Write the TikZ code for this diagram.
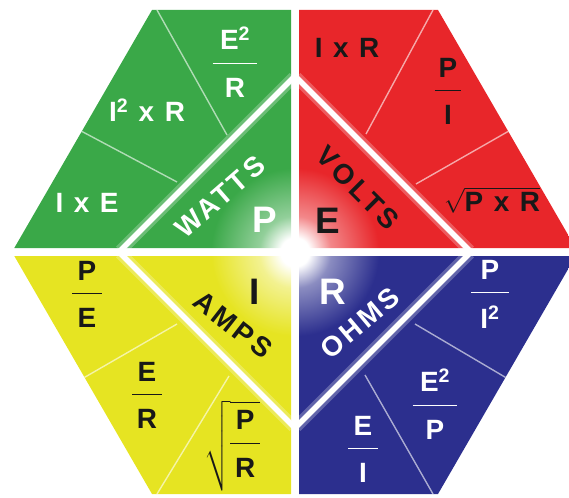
\documentclass[tikz,border=0pt]{standalone}
\usepackage{amsmath}
\usepackage{fontspec}
\setmainfont{Liberation Sans}
\usetikzlibrary{calc}

\definecolor{OhmGreen}{RGB}{58,168,72}
\definecolor{OhmRed}{RGB}{232,38,42}
\definecolor{OhmYellow}{RGB}{230,228,34}
\definecolor{OhmBlue}{RGB}{44,47,142}
\definecolor{OhmInk}{RGB}{24,24,24}
\colorlet{OhmGreenLight}{OhmGreen!55!white}
\colorlet{OhmRedLight}{OhmRed!55!white}
\colorlet{OhmYellowLight}{OhmYellow!50!white}
\colorlet{OhmBlueLight}{OhmBlue!55!white}
\colorlet{OhmGreenDark}{OhmGreen!88!black}
\colorlet{OhmRedDark}{OhmRed!90!black}
\colorlet{OhmYellowDark}{OhmYellow!92!black}
\colorlet{OhmBlueDark}{OhmBlue!90!black}

\pgfdeclareradialshading{greenglow}{\pgfpoint{0bp}{0bp}}{color(0bp)=(white); color(1.2bp)=(white); color(3bp)=(OhmGreenLight); color(7bp)=(OhmGreen); color(38bp)=(OhmGreen); color(50bp)=(OhmGreenDark)}
\pgfdeclareradialshading{redglow}{\pgfpoint{0bp}{0bp}}{color(0bp)=(white); color(1.2bp)=(white); color(3bp)=(OhmRedLight); color(7bp)=(OhmRed); color(38bp)=(OhmRed); color(50bp)=(OhmRedDark)}
\pgfdeclareradialshading{yellowglow}{\pgfpoint{0bp}{0bp}}{color(0bp)=(white); color(1.2bp)=(white); color(3bp)=(OhmYellowLight); color(7bp)=(OhmYellow); color(38bp)=(OhmYellow); color(50bp)=(OhmYellowDark)}
\pgfdeclareradialshading{blueglow}{\pgfpoint{0bp}{0bp}}{color(0bp)=(white); color(1.2bp)=(white); color(3bp)=(OhmBlueLight); color(7bp)=(OhmBlue); color(38bp)=(OhmBlue); color(50bp)=(OhmBlueDark)}

% stacked fraction: [bar width]{top}{bottom}
\newcommand{\vfrac}[3][1.05em]{%
  \begin{tabular}{@{}c@{}}#2\\[-6pt]\rule[.36em]{#1}{1pt}\\[-6pt]#3\end{tabular}}

\begin{document}
\begin{tikzpicture}[x=1bp, y=-1bp,
    formula/.style={inner sep=0pt, font=\fontsize{28}{30}\selectfont\bfseries\addfontfeature{LetterSpace=10}},
    quantity/.style={inner sep=0pt, font=\fontsize{37}{40}\selectfont\bfseries},
    unitname/.style={inner sep=0pt, font=\fontsize{28}{30}\selectfont\bfseries\addfontfeature{LetterSpace=12}},
    band/.style={white, line width=5.5bp, shorten <=-4bp, shorten >=-4bp},
    bandglow/.style={white, opacity=.25, line width=12bp, shorten <=-4bp, shorten >=-4bp},
    split/.style={white, opacity=.6, line width=1.4bp}]

\useasboundingbox (0,0) rectangle (569,498);
\clip (0,0) rectangle (569,498);

% centre and quadrant corners
\coordinate (C) at (295,252);
\coordinate (G1) at (152,10);   \coordinate (G2) at (291,10);
\coordinate (G3) at (291,248);  \coordinate (G4) at (14.3,248);
\coordinate (R1) at (299,10);   \coordinate (R2) at (438,10);
\coordinate (R3) at (575.7,248);\coordinate (R4) at (299,248);
\coordinate (Y1) at (14.3,256); \coordinate (Y2) at (291,256);
\coordinate (Y3) at (291,494);  \coordinate (Y4) at (152,494);
\coordinate (B1) at (299,256);  \coordinate (B2) at (575.7,256);
\coordinate (B3) at (438,494);  \coordinate (B4) at (299,494);

% quadrants
\begin{scope}
  \clip (G1) -- (G2) -- (G3) -- (G4) -- cycle;
  \shade[shading=greenglow] (C) circle (300);
\end{scope}
\begin{scope}
  \clip (R1) -- (R2) -- (R3) -- (R4) -- cycle;
  \shade[shading=redglow] (C) circle (300);
\end{scope}
\begin{scope}
  \clip (Y1) -- (Y2) -- (Y3) -- (Y4) -- cycle;
  \shade[shading=yellowglow] (C) circle (300);
\end{scope}
\begin{scope}
  \clip (B1) -- (B2) -- (B3) -- (B4) -- cycle;
  \shade[shading=blueglow] (C) circle (300);
\end{scope}

% diagonal bands round the inner triangles
\coordinate (Gd1) at (291,80);  \coordinate (Gd2) at (123,248);
\coordinate (Rd1) at (299,80);  \coordinate (Rd2) at (467,248);
\coordinate (Yd1) at (291,424); \coordinate (Yd2) at (123,256);
\coordinate (Bd1) at (299,424); \coordinate (Bd2) at (467,256);
\foreach \q in {G,R,Y,B} {
  \draw[bandglow] (\q d1) -- (\q d2);
  \draw[band] (\q d1) -- (\q d2);
}

% thin lines between the formulas
\coordinate (Gs1) at (157,10);             \coordinate (Ge1) at (227,135);
\coordinate (Gs2) at ($(G1)!.51!(G4)$);    \coordinate (Ge2) at (177,182);
\coordinate (Rs1) at (433,10);             \coordinate (Re1) at (366,134);
\coordinate (Rs2) at ($(R2)!.51!(R3)$);    \coordinate (Re2) at (416,184);
\coordinate (Ys1) at ($(Y1)!.51!(Y4)$);    \coordinate (Ye1) at (177,324);
\coordinate (Ys2) at (157,494);            \coordinate (Ye2) at (229,376);
\coordinate (Bs1) at ($(B2)!.51!(B3)$);    \coordinate (Be1) at (415,324);
\coordinate (Bs2) at (433,494);            \coordinate (Be2) at (365,375);
\foreach \q in {G,R,Y,B} {
  \draw[split] (\q s1) -- (\q e1);
  \draw[split] (\q s2) -- (\q e2);
}

% watts
\node[formula, white] (e2r) at (235,67) {\vfrac[1.6em]{E\textsuperscript{2}}{R}};
\node[formula, white] (i2r) at (147,110) {I\textsuperscript{2} x R};
\node[formula, white] (ie) at (87,203) {I x E};
\node[unitname, white, rotate=41] (watts) at (220,197) {WATTS};
\node[quantity, white] (pw) at (265,220) {P};

% volts
\node[formula, OhmInk] (ir) at (347,48) {I x R};
\node[formula, OhmInk] (pi) at (448,95) {\vfrac[.95em]{P}{I}};
\node[formula, OhmInk] (sqrtpr) at (492,200) {$\sqrt{\text{P x R}}$};
\node[unitname, OhmInk, rotate=-45] (volts) at (358,188) {VOLTS};
\node[quantity, OhmInk] (ev) at (328,221) {E};

% amps
\node[formula, OhmInk] (pe) at (87,298) {\vfrac{P}{E}};
\node[formula, OhmInk] (er) at (147,399) {\vfrac{E}{R}};
\node[formula, OhmInk] (sqrtp) at (232,446) {$\sqrt{\text{\vfrac{P}{R}}}$};
\node[unitname, OhmInk, rotate=-38] (amps) at (233,325) {AMPS};
\node[quantity, OhmInk] (ia) at (255,292) {I};

% ohms
\node[quantity, white] (rohm) at (333,292) {R};
\node[unitname, white, rotate=40] (ohms) at (360,323) {OHMS};
\node[formula, white] (pi2) at (490,298) {\vfrac[1.35em]{P}{I\textsuperscript{2}}};
\node[formula, white] (e2p) at (435,409) {\vfrac[1.6em]{E\textsuperscript{2}}{P}};
\node[formula, white] (ei) at (363,453) {\vfrac{E}{I}};
\end{tikzpicture}
\end{document}
